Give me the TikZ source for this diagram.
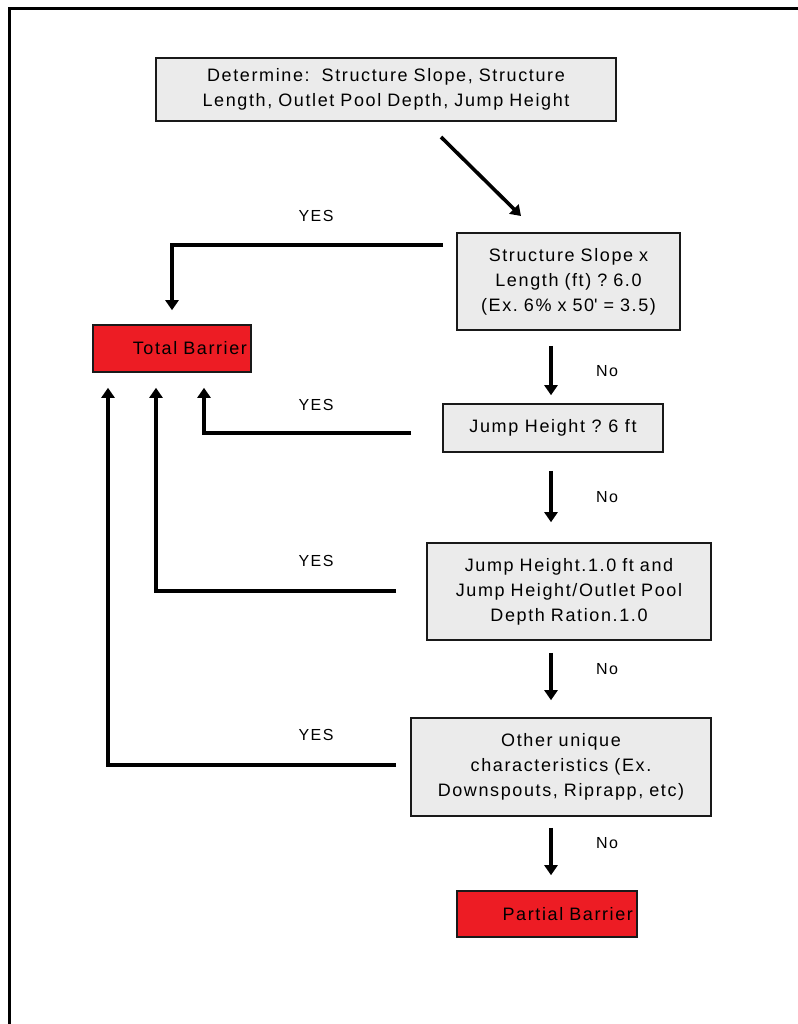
\documentclass[tikz,border=0pt]{standalone}
\usepackage{fontspec}
\setmainfont{Liberation Sans}[LetterSpace=9]
\usetikzlibrary{arrows.meta}
\frenchspacing

\definecolor{boxgray}{HTML}{EBEBEB}
\definecolor{barred}{HTML}{ED1C24}

\tikzset{
  task/.style={draw=black!90, line width=1.6pt, fill=boxgray, align=center,
    inner sep=2pt, font=\fontsize{18}{25}\selectfont},
  barrier/.style={draw=black!90, line width=1.6pt, fill=barred, align=right,
    inner xsep=4pt, font=\fontsize{18}{25}\selectfont},
  flow/.style={line width=3.6pt, -{Triangle[length=10pt,width=13pt]}},
  answer/.style={font=\fontsize{16}{20}\selectfont}
}

\begin{document}
\begin{tikzpicture}[x=1pt,y=-1pt]
  \useasboundingbox (0,0) rectangle (797,1024);
  \draw[line width=3pt] (9,1030) |- (800,9);

  \node[task,minimum width=460pt,minimum height=63pt,text width=440pt] at (386,89.5) (det)
    {Determine:\ \ Structure Slope, Structure\\Length, Outlet Pool Depth, Jump Height};
  \node[task,minimum width=223pt,minimum height=97pt,text width=212pt] at (568.5,281.5) (slope)
    {Structure Slope x\\Length (ft) ? 6.0\\(Ex. 6\% x 50\textquotesingle{} = 3.5)};
  \node[barrier,minimum height=47pt,text width=150pt] at (172,348.5) (total) {Total Barrier};
  \node[task,minimum width=220pt,minimum height=48pt] at (553,428) (jump) {Jump Height ? 6 ft};
  \node[task,minimum width=284pt,minimum height=97pt,text width=272pt] at (569,591.5) (ratio)
    {Jump Height.1.0 ft and\\Jump Height/Outlet Pool\\Depth Ration.1.0};
  \node[task,minimum width=300pt,minimum height=98pt,text width=290pt] at (561,767) (other)
    {Other unique\\characteristics (Ex.\\Downspouts, Riprapp, etc)};
  \node[barrier,minimum height=46pt,text width=172pt] at (547,914) (partial) {Partial Barrier};

  \node[answer] at (316,216) (yes1) {YES};
  \node[answer] at (316,405) (yes2) {YES};
  \node[answer] at (316,561) (yes3) {YES};
  \node[answer] at (316,735) (yes4) {YES};
  \node[answer] at (607,371) (no1) {No};
  \node[answer] at (607,497) (no2) {No};
  \node[answer] at (607,669) (no3) {No};
  \node[answer] at (607,843) (no4) {No};

  \coordinate (d1) at (441,137);
  \coordinate (d2) at (521,216);
  \coordinate (col) at (551,0);
  \coordinate (c1) at (443,245);
  \coordinate (c2) at (411,433);
  \coordinate (c3) at (396,591);
  \coordinate (c4) at (396,765);

  \draw[flow] (d1) -- (d2);
  \draw[flow,shorten >=14pt] (c1) -| (total.north);
  \draw[flow,shorten >=15pt] (c2) -| ([xshift=32pt]total.south);
  \draw[flow,shorten >=15pt] (c3) -| ([xshift=-16pt]total.south);
  \draw[flow,shorten >=15pt] (c4) -| ([xshift=-64pt]total.south);

  \draw[flow,shorten <=15pt,shorten >=8pt] (slope.south -| col) -- (jump.north -| col);
  \draw[flow,shorten <=18pt,shorten >=20pt] (jump.south -| col) -- (ratio.north -| col);
  \draw[flow,shorten <=12pt,shorten >=17pt] (ratio.south -| col) -- (other.north -| col);
  \draw[flow,shorten <=11pt,shorten >=15pt] (other.south -| col) -- (partial.north -| col);
\end{tikzpicture}
\end{document}
